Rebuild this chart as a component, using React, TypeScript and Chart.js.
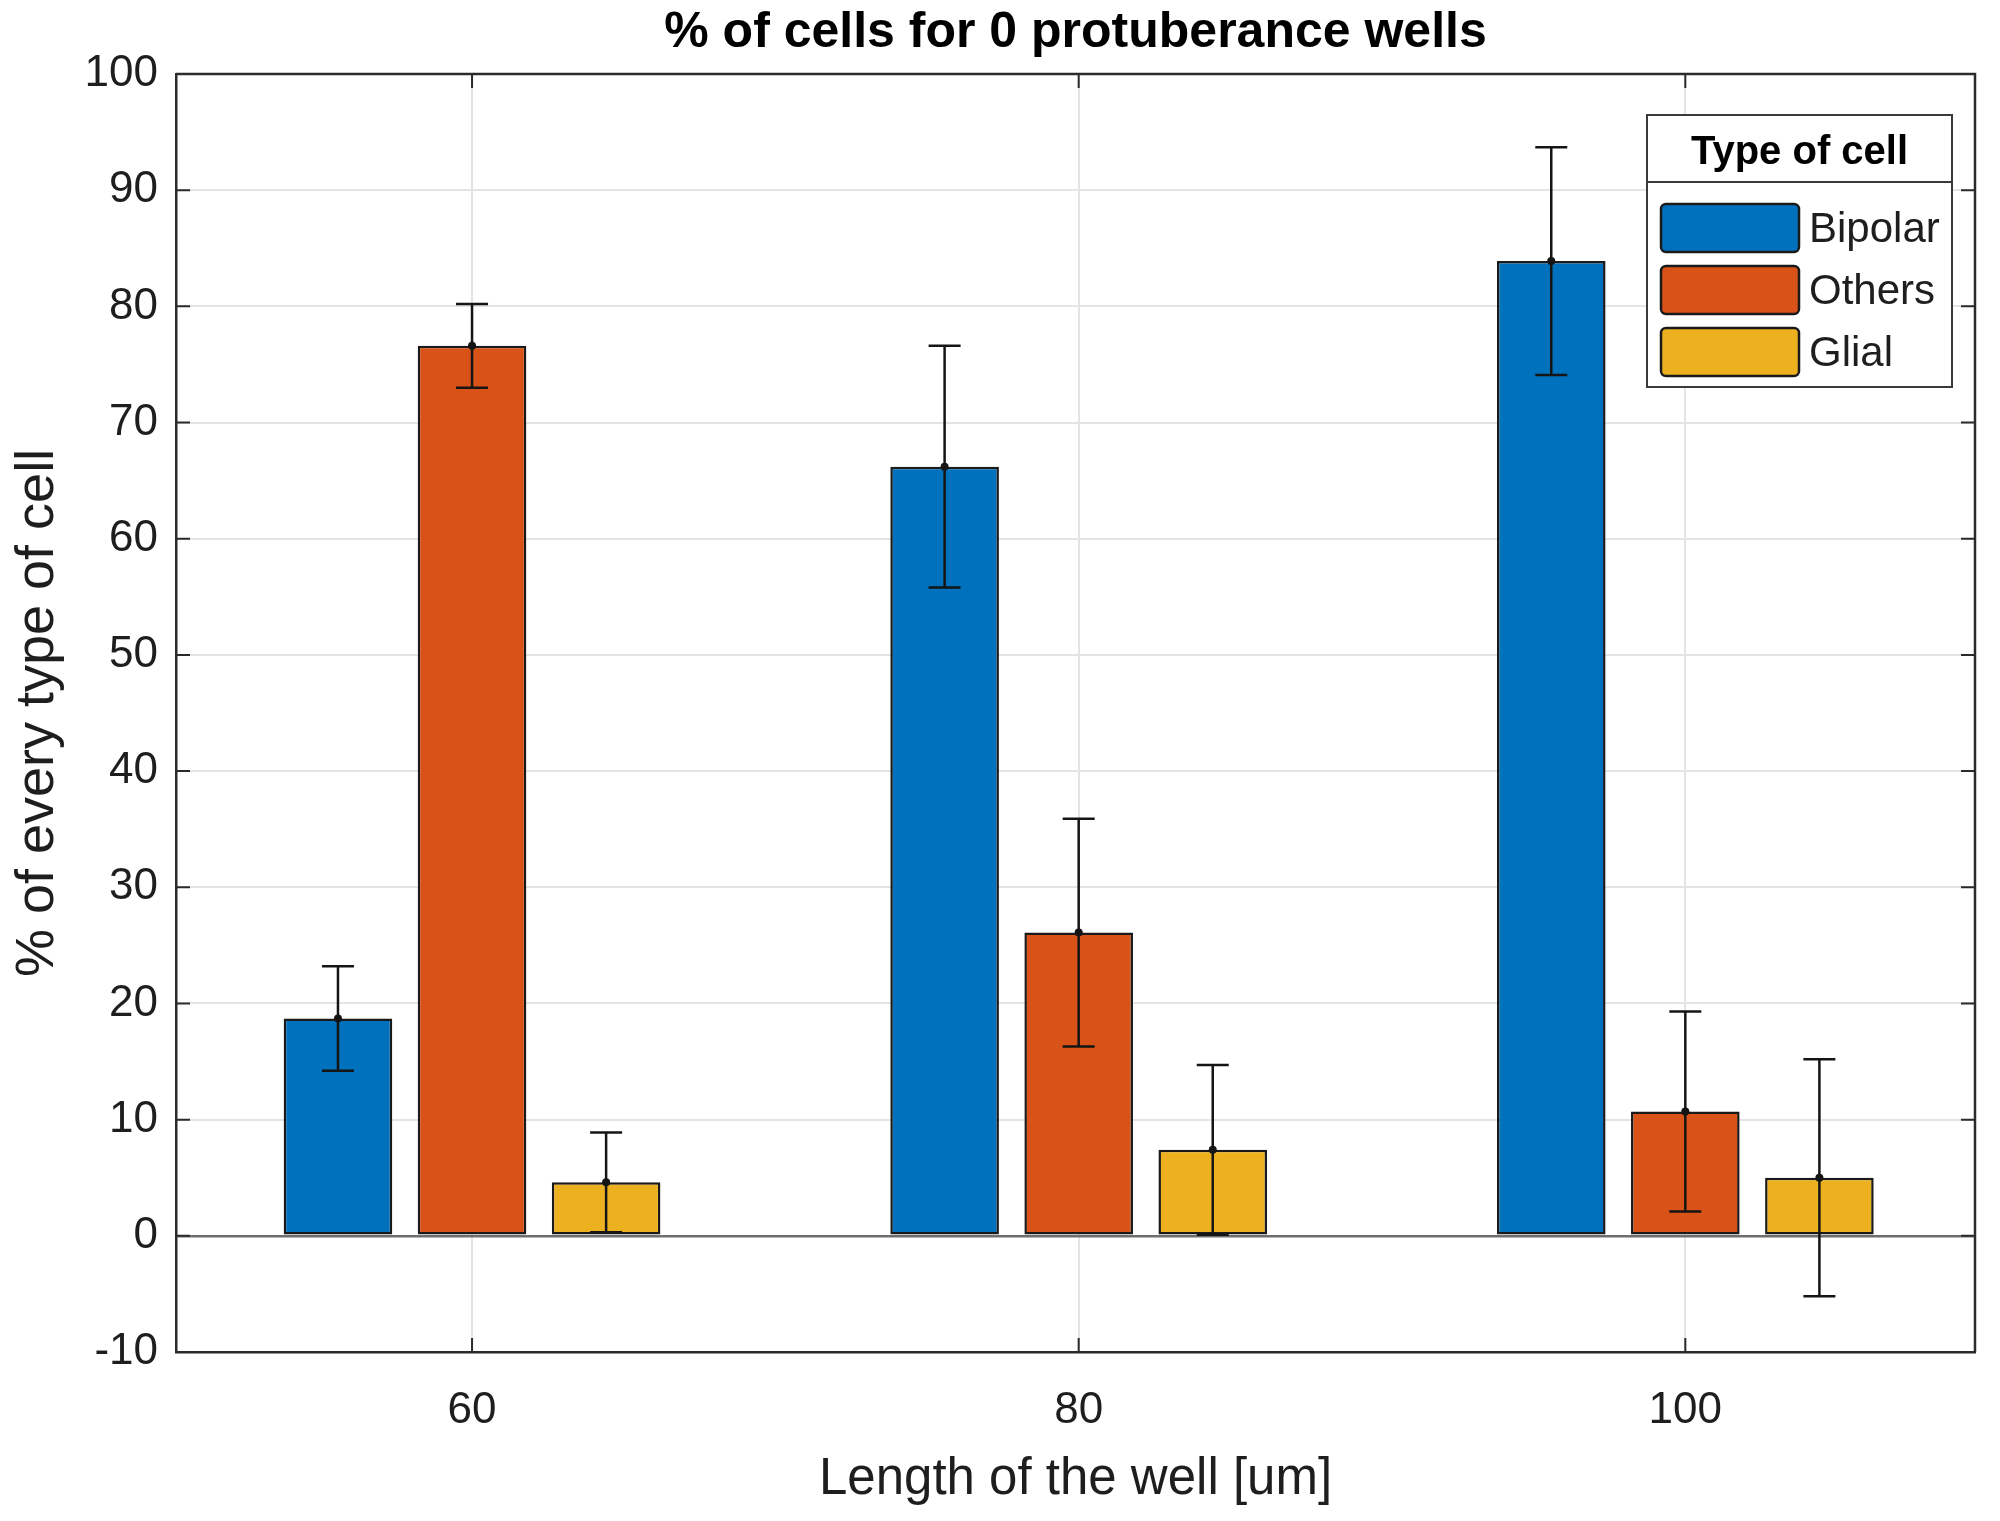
import { useEffect, useRef } from 'react';
import { Chart, registerables } from 'chart.js';

Chart.register(...registerables);

const CHART_TITLE = '% of cells for 0 protuberance wells';
const X_TITLE = 'Length of the well [um]';
const Y_TITLE = '% of every type of cell';
const LEGEND_TITLE = 'Type of cell';

const WELL_LENGTHS = [60, 80, 100];
const SERIES_NAMES = ['Bipolar', 'Others', 'Glial'];

const BIPOLAR = [18.7, 66.2, 83.9];
const OTHERS = [76.6, 26.1, 10.7];
const GLIAL = [4.6, 7.4, 5.0];

const BIPOLAR_ERR = [4.5, 10.4, 9.8];
const OTHERS_ERR = [3.6, 9.8, 8.6];
const GLIAL_ERR = [4.3, 7.3, 10.2];

const X_MIN = 50.24;
const X_MAX = 109.55;
const Y_MIN = -10;
const Y_MAX = 100;
const Y_STEP = 10;

const COLORS = ['#0072BD', '#D95319', '#EDB120'];
const FONT = '"Liberation Sans", Arial, Helvetica, sans-serif';
const AXIS_COLOR = '#2b2b2b';
const TEXT_COLOR = '#1e1e1e';
const GRID_COLOR = '#e4e4e4';

const errorBars = {
  id: 'errorBars',
  afterDatasetsDraw(chart: any) {
    const { ctx } = chart;
    const yScale = chart.scales.y;
    chart.data.datasets.forEach((ds: any, i: number) => {
      const meta = chart.getDatasetMeta(i);
      meta.data.forEach((bar: any, j: number) => {
        const v = ds.data[j].y;
        const e = ds.errors[j];
        const x = bar.x;
        const yHi = yScale.getPixelForValue(v + e);
        const yLo = yScale.getPixelForValue(v - e);
        const yMid = yScale.getPixelForValue(v);
        ctx.save();
        ctx.strokeStyle = '#151515';
        ctx.lineWidth = 2.5;
        ctx.beginPath();
        ctx.moveTo(x, yHi);
        ctx.lineTo(x, yLo);
        ctx.moveTo(x - 16, yHi);
        ctx.lineTo(x + 16, yHi);
        ctx.moveTo(x - 16, yLo);
        ctx.lineTo(x + 16, yLo);
        ctx.stroke();
        ctx.fillStyle = '#151515';
        ctx.beginPath();
        ctx.arc(x, yMid, 4, 0, Math.PI * 2);
        ctx.fill();
        ctx.restore();
      });
    });
  },
};

const axesBox = {
  id: 'axesBox',
  afterDatasetsDraw(chart: any) {
    const { ctx, chartArea } = chart;
    const { left, right, top, bottom } = chartArea;
    const yScale = chart.scales.y;
    const xScale = chart.scales.x;
    ctx.save();
    ctx.strokeStyle = AXIS_COLOR;
    ctx.lineWidth = 2.5;
    ctx.beginPath();
    ctx.moveTo(left, top);
    ctx.lineTo(right, top);
    ctx.lineTo(right, bottom);
    ctx.stroke();
    ctx.lineWidth = 2;
    ctx.beginPath();
    yScale.ticks.forEach((t: any) => {
      const y = yScale.getPixelForValue(t.value);
      ctx.moveTo(left, y);
      ctx.lineTo(left + 14, y);
      ctx.moveTo(right, y);
      ctx.lineTo(right - 14, y);
    });
    WELL_LENGTHS.forEach((v) => {
      const x = xScale.getPixelForValue(v);
      ctx.moveTo(x, bottom);
      ctx.lineTo(x, bottom - 14);
      ctx.moveTo(x, top);
      ctx.lineTo(x, top + 14);
    });
    ctx.stroke();

    // title centred over the plot box
    ctx.fillStyle = '#000';
    ctx.font = `bold 50px ${FONT}`;
    ctx.textAlign = 'center';
    ctx.textBaseline = 'middle';
    ctx.fillText(CHART_TITLE, (left + right) / 2, 33);
    ctx.restore();
  },
};

const boxLegend = {
  id: 'boxLegend',
  afterDraw(chart: any) {
    const { ctx } = chart;
    const bx = 1647;
    const by = 115;
    const bw = 305;
    const bh = 272;
    ctx.save();
    ctx.fillStyle = '#ffffff';
    ctx.fillRect(bx, by, bw, bh);
    ctx.strokeStyle = '#3a3a3a';
    ctx.lineWidth = 2;
    ctx.strokeRect(bx, by, bw, bh);
    ctx.beginPath();
    ctx.moveTo(bx, by + 67);
    ctx.lineTo(bx + bw, by + 67);
    ctx.stroke();

    ctx.fillStyle = '#000';
    ctx.font = `bold 40px ${FONT}`;
    ctx.textAlign = 'center';
    ctx.textBaseline = 'middle';
    ctx.fillText(LEGEND_TITLE, bx + bw / 2, by + 38);

    ctx.font = `42px ${FONT}`;
    ctx.textAlign = 'left';
    chart.data.datasets.forEach((ds: any, i: number) => {
      const cy = by + 113 + i * 62;
      ctx.fillStyle = ds.backgroundColor;
      ctx.strokeStyle = '#1a1a1a';
      ctx.lineWidth = 2.5;
      ctx.beginPath();
      ctx.roundRect(bx + 14, cy - 24, 138, 48, 5);
      ctx.fill();
      ctx.stroke();
      ctx.fillStyle = TEXT_COLOR;
      ctx.fillText(ds.label, bx + 162, cy + 2);
    });
    ctx.restore();
  },
};

export default function App() {
  const canvasRef = useRef<HTMLCanvasElement>(null);
  const chartRef = useRef<Chart | null>(null);

  useEffect(() => {
    document.body.style.margin = '0';
    if (!canvasRef.current) return;
    const ctx = canvasRef.current.getContext('2d');
    if (!ctx) return;

    if (chartRef.current) {
      chartRef.current.destroy();
    }

    const values = [BIPOLAR, OTHERS, GLIAL];
    const errors = [BIPOLAR_ERR, OTHERS_ERR, GLIAL_ERR];

    chartRef.current = new Chart(ctx, {
      type: 'bar',
      data: {
        datasets: SERIES_NAMES.map((name, i) => ({
          label: name,
          data: values[i].map((y, j) => ({ x: WELL_LENGTHS[j], y })),
          errors: errors[i],
          backgroundColor: COLORS[i],
          borderColor: '#1a1a1a',
          borderWidth: 2.5,
          borderSkipped: false,
          categoryPercentage: 0.663,
          barPercentage: 0.81,
        })) as any,
      },
      options: {
        responsive: false,
        animation: false,
        devicePixelRatio: 1,
        layout: { padding: { left: 0, right: 25, top: 74, bottom: 0 } },
        plugins: {
          legend: { display: false },
          tooltip: { enabled: false },
          title: { display: false },
        },
        scales: {
          x: {
            type: 'linear',
            min: X_MIN,
            max: X_MAX,
            offset: false,
            afterBuildTicks: (scale: any) => {
              scale.ticks = WELL_LENGTHS.map((v) => ({ value: v }));
            },
            grid: {
              offset: false,
              color: GRID_COLOR,
              lineWidth: 2,
              drawTicks: false,
            },
            border: { color: AXIS_COLOR, width: 2.5 },
            ticks: {
              color: TEXT_COLOR,
              font: { family: FONT, size: 44 },
              padding: 32,
              callback: (v: any) => String(v),
            },
            title: {
              display: true,
              text: X_TITLE,
              color: TEXT_COLOR,
              font: { family: FONT, size: 51 },
              padding: { top: 0, bottom: 10 },
            },
            afterFit: (scale: any) => {
              scale.height = 169;
            },
          },
          y: {
            min: Y_MIN,
            max: Y_MAX,
            grid: {
              color: (c: any) => (c.tick && c.tick.value === 0 ? '#6e6e6e' : GRID_COLOR),
              lineWidth: (c: any) => (c.tick && c.tick.value === 0 ? 2.5 : 2),
              drawTicks: false,
            },
            border: { color: AXIS_COLOR, width: 2.5 },
            ticks: {
              stepSize: Y_STEP,
              color: TEXT_COLOR,
              font: { family: FONT, size: 44 },
              padding: 18,
            },
            title: {
              display: true,
              text: Y_TITLE,
              color: TEXT_COLOR,
              font: { family: FONT, size: 54 },
              padding: { top: 6, bottom: 0 },
            },
            afterFit: (scale: any) => {
              scale.width = 176;
            },
          },
        },
      },
      plugins: [errorBars, axesBox, boxLegend],
    });

    return () => {
      chartRef.current?.destroy();
      chartRef.current = null;
    };
  }, []);

  return (
    <div style={{ width: 2000, height: 1521, background: '#fff' }}>
      <canvas ref={canvasRef} width={2000} height={1521} />
    </div>
  );
}
